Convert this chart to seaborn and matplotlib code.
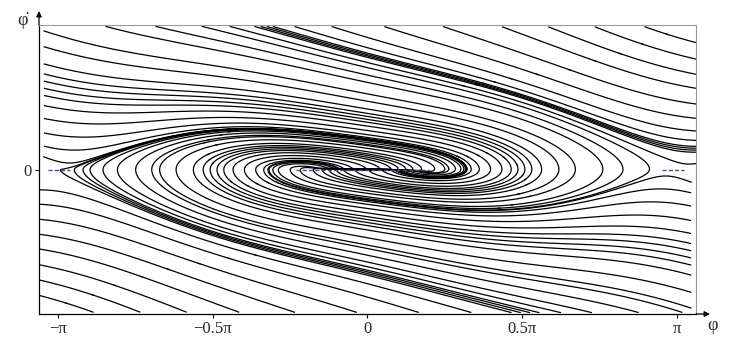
import numpy as np
import matplotlib
matplotlib.use("Agg")
import matplotlib.pyplot as plt
import seaborn as sns

# ---- parameters / data -------------------------------------------------
k_stiff = 0.0068    # restoring-torque scale
b_shape = 5.4       # stiffening towards the upper position
gamma_lin = 0.01    # linear damping
c_quad = 0.20       # quadratic drag
mu = 0.0088         # dry friction level
x_range = [-1.06 * np.pi, 1.06 * np.pi]
y_range = [-1.0, 1.0]
tick_pos = [-np.pi, -0.5 * np.pi, 0.0, 0.5 * np.pi, np.pi]
tick_labels = ["\u2212\u03c0", "\u22120.5\u03c0", "0", "0.5\u03c0", "\u03c0"]
# where trajectories cross the frame
seed_left_y = [0.004, 0.009, 0.014, 0.05, 0.10, 0.17, 0.26, 0.36, 0.45, 0.52,
               0.57, 0.62, 0.67, 0.74, 0.86, 0.97]
seed_top_x = [-0.86, -0.70, -0.55, -0.46, -0.38, -0.36, -0.34, -0.32, -0.25,
              -0.13, 0.04, 0.23, 0.42, 0.57, 0.72, 0.88, 1.03]
seed_bottom_x = [-0.87, -0.72, -0.57, -0.40, -0.22, -0.02, 0.18, 0.35, 0.48,
                 0.51, 0.54, 0.57, 0.64, 0.74, 0.89, 1.03]
stag_segments = [(-0.23, 0.20), (-1.03, -0.96), (0.95, 1.02)]

sns.set_theme(style="white")
plt.rcParams["font.family"] = ["Liberation Serif", "DejaVu Serif"]

fig = plt.figure(figsize=(7.33, 3.49), dpi=100)
ax = fig.add_axes([39 / 733, 1 - 314 / 349, (696 - 39) / 733, (314 - 25) / 349])

xg = np.linspace(x_range[0], x_range[1], 500)
yg = np.linspace(y_range[0], y_range[1], 400)
XX, YY = np.meshgrid(xg, yg)
U = YY
V = (-k_stiff * np.sin(XX) * (1 + b_shape * (1 - np.cos(XX)))
     - gamma_lin * YY - c_quad * YY * np.abs(YY) - mu * np.tanh(YY / 0.01))

eps = 1e-3
starts = []
for yv in seed_left_y:
    starts.append((x_range[0] + eps, yv))
    starts.append((x_range[1] - eps, -yv))
for xv in seed_top_x:
    starts.append((xv * np.pi, y_range[1] - eps))
for xv in seed_bottom_x:
    starts.append((xv * np.pi, y_range[0] + eps))
starts = np.array(starts)

ax.streamplot(XX, YY, U, V, start_points=starts, color="black",
              linewidth=0.9, arrowstyle="-", broken_streamlines=False,
              integration_direction="forward", maxlength=20, density=4)

for a, b in stag_segments:
    ax.plot([a * np.pi, b * np.pi], [0, 0], color="#4a4a9a", lw=1.0,
            ls=(0, (3, 1.5)), zorder=3)

ax.set_xlim(*x_range)
ax.set_ylim(*y_range)
ax.set_xticks(tick_pos)
ax.set_xticklabels(tick_labels, fontsize=12)
ax.set_yticks([0])
ax.set_yticklabels(["0"], fontsize=12)
ax.tick_params(axis="both", direction="out", length=3, width=0.8,
               color="black", pad=2, bottom=True, left=True)

for s in ["top", "right"]:
    ax.spines[s].set_color("#999999")
    ax.spines[s].set_linewidth(0.8)
for s in ["left", "bottom"]:
    ax.spines[s].set_color("black")
    ax.spines[s].set_linewidth(0.9)

ax.annotate("", xy=(1.0 + 14 / 657, 0), xytext=(1.0, 0), xycoords="axes fraction",
            arrowprops=dict(arrowstyle="-|>", color="black", lw=0.9,
                            mutation_scale=8, shrinkA=0, shrinkB=0),
            annotation_clip=False)
ax.annotate("", xy=(0, 1.0 + 14 / 289), xytext=(0, 1.0), xycoords="axes fraction",
            arrowprops=dict(arrowstyle="-|>", color="black", lw=0.9,
                            mutation_scale=8, shrinkA=0, shrinkB=0),
            annotation_clip=False)

fig.text(712 / 733, 1 - 325 / 349, "\u03c6", fontsize=13, ha="center", va="center")
fig.text(22 / 733, 1 - 20 / 349, "\u03c6\u0307", fontsize=13, ha="center", va="center")

fig.savefig("out.png", dpi=100)
